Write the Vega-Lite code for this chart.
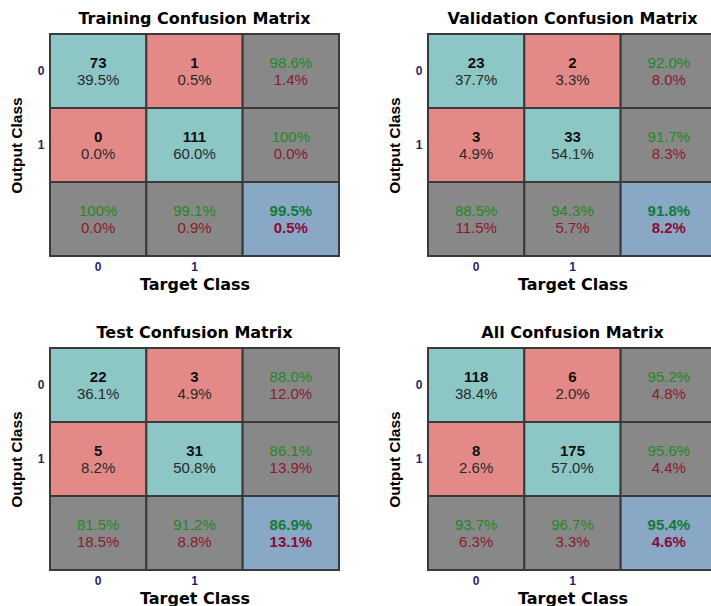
{
  "$schema": "https://vega.github.io/schema/vega-lite/v6.json",
  "padding": {"left": 9, "top": 11, "right": 0, "bottom": 0},
  "background": "white",
  "config": {"font": "Liberation Sans", "view": {"stroke": null}},
  "data": {"values": [
    {"panel": "Training Confusion Matrix", "col": "0", "row": "0", "type": "correct", "l1": "73", "l2": "39.5%"},
    {"panel": "Training Confusion Matrix", "col": "1", "row": "0", "type": "wrong", "l1": "1", "l2": "0.5%"},
    {"panel": "Training Confusion Matrix", "col": "T", "row": "0", "type": "summary", "l1": "98.6%", "l2": "1.4%"},
    {"panel": "Training Confusion Matrix", "col": "0", "row": "1", "type": "wrong", "l1": "0", "l2": "0.0%"},
    {"panel": "Training Confusion Matrix", "col": "1", "row": "1", "type": "correct", "l1": "111", "l2": "60.0%"},
    {"panel": "Training Confusion Matrix", "col": "T", "row": "1", "type": "summary", "l1": "100%", "l2": "0.0%"},
    {"panel": "Training Confusion Matrix", "col": "0", "row": "T", "type": "summary", "l1": "100%", "l2": "0.0%"},
    {"panel": "Training Confusion Matrix", "col": "1", "row": "T", "type": "summary", "l1": "99.1%", "l2": "0.9%"},
    {"panel": "Training Confusion Matrix", "col": "T", "row": "T", "type": "total", "l1": "99.5%", "l2": "0.5%"},
    {"panel": "Validation Confusion Matrix", "col": "0", "row": "0", "type": "correct", "l1": "23", "l2": "37.7%"},
    {"panel": "Validation Confusion Matrix", "col": "1", "row": "0", "type": "wrong", "l1": "2", "l2": "3.3%"},
    {"panel": "Validation Confusion Matrix", "col": "T", "row": "0", "type": "summary", "l1": "92.0%", "l2": "8.0%"},
    {"panel": "Validation Confusion Matrix", "col": "0", "row": "1", "type": "wrong", "l1": "3", "l2": "4.9%"},
    {"panel": "Validation Confusion Matrix", "col": "1", "row": "1", "type": "correct", "l1": "33", "l2": "54.1%"},
    {"panel": "Validation Confusion Matrix", "col": "T", "row": "1", "type": "summary", "l1": "91.7%", "l2": "8.3%"},
    {"panel": "Validation Confusion Matrix", "col": "0", "row": "T", "type": "summary", "l1": "88.5%", "l2": "11.5%"},
    {"panel": "Validation Confusion Matrix", "col": "1", "row": "T", "type": "summary", "l1": "94.3%", "l2": "5.7%"},
    {"panel": "Validation Confusion Matrix", "col": "T", "row": "T", "type": "total", "l1": "91.8%", "l2": "8.2%"},
    {"panel": "Test Confusion Matrix", "col": "0", "row": "0", "type": "correct", "l1": "22", "l2": "36.1%"},
    {"panel": "Test Confusion Matrix", "col": "1", "row": "0", "type": "wrong", "l1": "3", "l2": "4.9%"},
    {"panel": "Test Confusion Matrix", "col": "T", "row": "0", "type": "summary", "l1": "88.0%", "l2": "12.0%"},
    {"panel": "Test Confusion Matrix", "col": "0", "row": "1", "type": "wrong", "l1": "5", "l2": "8.2%"},
    {"panel": "Test Confusion Matrix", "col": "1", "row": "1", "type": "correct", "l1": "31", "l2": "50.8%"},
    {"panel": "Test Confusion Matrix", "col": "T", "row": "1", "type": "summary", "l1": "86.1%", "l2": "13.9%"},
    {"panel": "Test Confusion Matrix", "col": "0", "row": "T", "type": "summary", "l1": "81.5%", "l2": "18.5%"},
    {"panel": "Test Confusion Matrix", "col": "1", "row": "T", "type": "summary", "l1": "91.2%", "l2": "8.8%"},
    {"panel": "Test Confusion Matrix", "col": "T", "row": "T", "type": "total", "l1": "86.9%", "l2": "13.1%"},
    {"panel": "All Confusion Matrix", "col": "0", "row": "0", "type": "correct", "l1": "118", "l2": "38.4%"},
    {"panel": "All Confusion Matrix", "col": "1", "row": "0", "type": "wrong", "l1": "6", "l2": "2.0%"},
    {"panel": "All Confusion Matrix", "col": "T", "row": "0", "type": "summary", "l1": "95.2%", "l2": "4.8%"},
    {"panel": "All Confusion Matrix", "col": "0", "row": "1", "type": "wrong", "l1": "8", "l2": "2.6%"},
    {"panel": "All Confusion Matrix", "col": "1", "row": "1", "type": "correct", "l1": "175", "l2": "57.0%"},
    {"panel": "All Confusion Matrix", "col": "T", "row": "1", "type": "summary", "l1": "95.6%", "l2": "4.4%"},
    {"panel": "All Confusion Matrix", "col": "0", "row": "T", "type": "summary", "l1": "93.7%", "l2": "6.3%"},
    {"panel": "All Confusion Matrix", "col": "1", "row": "T", "type": "summary", "l1": "96.7%", "l2": "3.3%"},
    {"panel": "All Confusion Matrix", "col": "T", "row": "T", "type": "total", "l1": "95.4%", "l2": "4.6%"}
  ]},
  "facet": {
    "field": "panel",
    "type": "nominal",
    "sort": ["Training Confusion Matrix", "Validation Confusion Matrix", "Test Confusion Matrix", "All Confusion Matrix"],
    "header": {"title": null, "labelFontSize": 16, "labelFontWeight": "bold", "labelColor": "black", "labelPadding": 6, "labelFont": "DejaVu Sans"}
  },
  "columns": 2,
  "spacing": {"row": 33, "column": 47},
  "resolve": {"axis": {"x": "independent", "y": "independent"}},
  "spec": {
    "width": 289,
    "height": 222,
    "encoding": {
      "x": {"field": "col", "type": "nominal", "scale": {"domain": ["0", "1", "T"], "paddingInner": 0, "paddingOuter": 0},
        "axis": {"title": "Target Class", "labelAngle": 0, "ticks": false, "domain": false, "labelExpr": "datum.value == 'T' ? '' : datum.value", "labelFontSize": 12, "labelFontWeight": "bold", "labelColor": "#2a1f66", "labelPadding": 5, "titleFont": "DejaVu Sans", "titleFontSize": 16, "titleFontWeight": "bold", "titleColor": "black", "titlePadding": 4}},
      "y": {"field": "row", "type": "nominal", "scale": {"domain": ["0", "1", "T"], "paddingInner": 0, "paddingOuter": 0},
        "axis": {"title": "Output Class", "ticks": false, "domain": false, "labelExpr": "datum.value == 'T' ? '' : datum.value", "labelFontSize": 12, "labelFontWeight": "bold", "labelColor": "#2a1f66", "labelPadding": 6, "titleFontSize": 15.5, "titleFontWeight": "bold", "titleColor": "black", "titlePadding": 13}}
    },
    "layer": [
      {"mark": {"type": "rect", "stroke": "#3a3a3a", "strokeWidth": 2},
       "encoding": {"fill": {"field": "type", "type": "nominal", "legend": null,
         "scale": {"domain": ["correct", "wrong", "summary", "total"], "range": ["#8cc6c5", "#e38a88", "#888888", "#88a8c6"]}}}},
      {"transform": [{"filter": "datum.type == 'correct' || datum.type == 'wrong'"}],
       "mark": {"type": "text", "dy": -8, "fontSize": 15, "fontWeight": "bold", "color": "#111111"},
       "encoding": {"text": {"field": "l1"}}},
      {"transform": [{"filter": "datum.type == 'correct' || datum.type == 'wrong'"}],
       "mark": {"type": "text", "dy": 8.5, "fontSize": 15, "color": "#2a2a2a"},
       "encoding": {"text": {"field": "l2"}}},
      {"transform": [{"filter": "datum.type == 'summary'"}],
       "mark": {"type": "text", "dy": -8, "fontSize": 15, "color": "#1f8a1f"},
       "encoding": {"text": {"field": "l1"}}},
      {"transform": [{"filter": "datum.type == 'summary'"}],
       "mark": {"type": "text", "dy": 8.5, "fontSize": 15, "color": "#8c1a2a"},
       "encoding": {"text": {"field": "l2"}}},
      {"transform": [{"filter": "datum.type == 'total'"}],
       "mark": {"type": "text", "dy": -8, "fontSize": 15, "fontWeight": "bold", "color": "#137a35"},
       "encoding": {"text": {"field": "l1"}}},
      {"transform": [{"filter": "datum.type == 'total'"}],
       "mark": {"type": "text", "dy": 8.5, "fontSize": 15, "fontWeight": "bold", "color": "#8a0a35"},
       "encoding": {"text": {"field": "l2"}}}
    ]
  }
}
